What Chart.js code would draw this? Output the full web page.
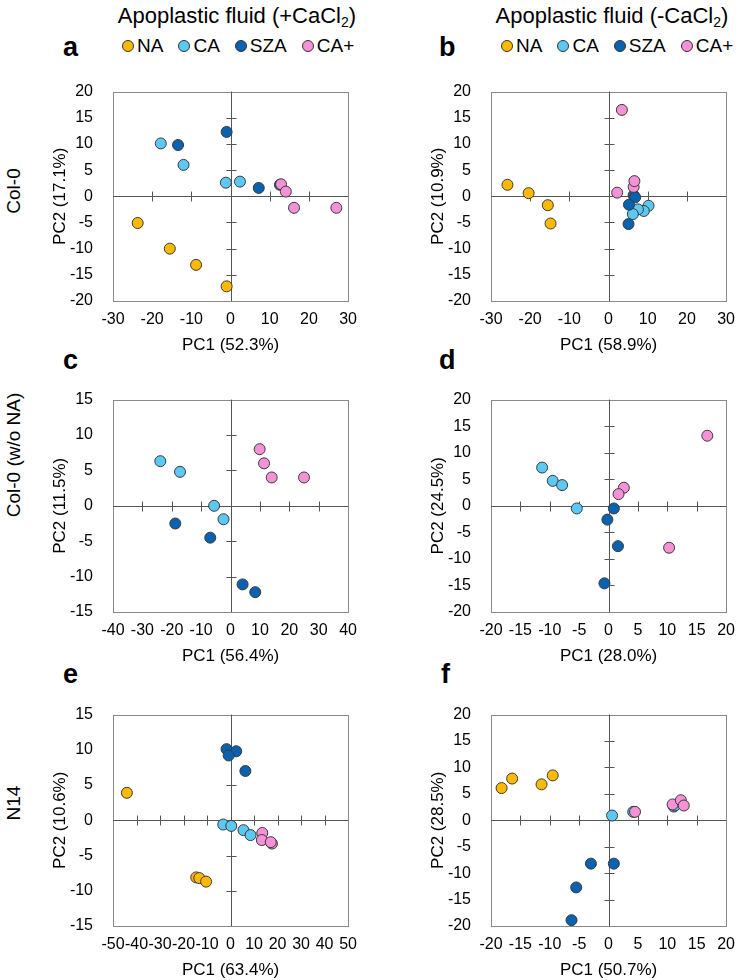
<!DOCTYPE html>
<html>
<head>
<meta charset="utf-8">
<script src="https://cdn.jsdelivr.net/npm/chart.js@4.4.0/dist/chart.umd.min.js"></script>
<style>
  body { margin: 0; background: #fff; overflow: hidden; font-family: "Liberation Sans", Arial, sans-serif; color: #000; }
  #page { position: relative; width: 745px; height: 980px; }
  canvas { position: absolute; }
  .head { position: absolute; top: 3px; font-size: 22px; transform: translateX(-50%); white-space: nowrap; }
  .head sub { font-size: 14px; vertical-align: -4px; line-height: 0; }
  .letter { position: absolute; font-weight: bold; font-size: 27px; line-height: 1; }
  .legend { position: absolute; top: 35px; display: flex; gap: 15px; font-size: 19px; line-height: 22px; }
  .legend span { display: flex; align-items: center; }
  .dot { width: 10px; height: 10px; border-radius: 50%; border: 1px solid #333; margin-right: 3px; }
  .row { position: absolute; left: 14px; font-size: 19px; white-space: nowrap; transform: translate(-50%, -50%) rotate(-90deg); }
</style>
</head>
<body>
<div id="page">
  <div class="head" style="left:237px">Apoplastic fluid (+CaCl<sub>2</sub>)</div>
  <div class="head" style="left:612px">Apoplastic fluid (-CaCl<sub>2</sub>)</div>

  <div class="letter" style="left:63px;top:34px">a</div>
  <div class="letter" style="left:439px;top:34px">b</div>
  <div class="letter" style="left:63px;top:347px">c</div>
  <div class="letter" style="left:439px;top:347px">d</div>
  <div class="letter" style="left:63px;top:661px">e</div>
  <div class="letter" style="left:441px;top:661px">f</div>

  <div class="legend" id="legA" style="left:122px"></div>
  <div class="legend" id="legB" style="left:501px"></div>

  <div class="row" style="top:191px">Col-0</div>
  <div class="row" style="top:455px">Col-0 (w/o NA)</div>
  <div class="row" style="top:803px">N14</div>

  <canvas id="cA"></canvas>
  <canvas id="cB"></canvas>
  <canvas id="cC"></canvas>
  <canvas id="cD"></canvas>
  <canvas id="cE"></canvas>
  <canvas id="cF"></canvas>
</div>

<script>
// groups and colours
const groups = ["NA", "CA", "SZA", "CA+"];
const fills = ["#FBBA00", "#5CC8F4", "#0862B0", "#F591D6"];

// a: Col-0, +CaCl2
const aNA  = [[-23.7,-5.1],[-15.5,-10.0],[-8.8,-13.1],[-1.0,-17.2]];
const aCA  = [[-17.8,10.1],[-12.0,6.0],[-1.2,2.6],[2.4,2.8]];
const aSZA = [[-13.4,9.8],[-1.0,12.3],[7.2,1.6],[12.6,2.2]];
const aCAp = [[12.9,2.3],[14.1,0.9],[16.2,-2.2],[27.0,-2.2]];

// b: Col-0, -CaCl2
const bNA  = [[-25.8,2.2],[-20.4,0.6],[-15.5,-1.7],[-14.8,-5.2]];
const bCA  = [[10.2,-1.8],[9.0,-2.8],[7.5,-2.5],[6.2,-3.4]];
const bSZA = [[6.4,0.2],[6.8,-0.2],[5.2,-1.6],[5.1,-5.3]];
const bCAp = [[3.4,16.5],[2.2,0.7],[6.4,1.8],[6.6,2.9]];

// c: Col-0 w/o NA, +CaCl2
const cCA  = [[-23.9,6.3],[-17.2,4.8],[-5.6,0.0],[-2.4,-1.9]];
const cSZA = [[-18.8,-2.5],[-6.9,-4.5],[4.1,-11.1],[8.4,-12.2]];
const cCAp = [[9.9,8.0],[11.4,6.0],[14.0,4.0],[25.0,4.0]];

// d: Col-0 w/o NA, -CaCl2
const dCA  = [[-11.3,7.2],[-9.5,4.7],[-7.9,3.9],[-5.4,-0.5]];
const dSZA = [[0.9,-0.5],[-0.2,-2.6],[1.6,-7.6],[-0.7,-14.6]];
const dCAp = [[16.8,13.2],[2.6,3.4],[1.7,2.2],[10.3,-7.9]];

// e: N14, +CaCl2
const eNA  = [[-44.1,3.9],[-14.6,-8.1],[-13.3,-8.2],[-10.4,-8.7]];
const eCA  = [[-3.1,-0.6],[0.3,-0.8],[5.5,-1.4],[8.5,-2.1]];
const eSZA = [[-1.7,10.1],[2.4,9.8],[-0.8,9.2],[6.3,7.0]];
const eCAp = [[13.5,-1.8],[13.3,-2.8],[17.6,-3.3],[17.1,-3.1]];

// f: N14, -CaCl2
const fNA  = [[-18.2,6.1],[-16.4,7.9],[-11.4,6.8],[-9.5,8.5]];
const fCA  = [[0.6,0.9],[4.2,1.6],[11.1,2.6],[11.3,2.8]];
const fSZA = [[-3.0,-8.2],[0.9,-8.2],[-5.5,-12.7],[-6.3,-18.9]];
const fCAp = [[4.5,1.6],[10.9,3.0],[12.3,3.8],[12.8,2.8]];

// axis ranges [min, max, step]
const xA = [-30, 30, 10], yA = [-20, 20, 5];
const xB = [-30, 30, 10], yB = [-20, 20, 5];
const xC = [-40, 40, 10], yC = [-15, 15, 5];
const xD = [-20, 20, 5],  yD = [-20, 20, 5];
const xE = [-50, 50, 10], yE = [-15, 15, 5];
const xF = [-20, 20, 5],  yF = [-20, 20, 5];

// axis titles
const xTitles = ["PC1 (52.3%)", "PC1 (58.9%)", "PC1 (56.4%)", "PC1 (28.0%)", "PC1 (63.4%)", "PC1 (50.7%)"];
const yTitles = ["PC2 (17.1%)", "PC2 (10.9%)", "PC2 (11.5%)", "PC2 (24.5%)", "PC2 (10.6%)", "PC2 (28.5%)"];

// =========================
// LEGENDS (html)
// =========================
["legA", "legB"].forEach(id => {
  const box = document.getElementById(id);
  groups.forEach((g, i) => {
    const s = document.createElement("span");
    s.innerHTML = '<i class="dot" style="background:' + fills[i] + '"></i>' + g;
    box.appendChild(s);
  });
});

// frame, zero lines and the little cross ticks
const frame = {
  id: "frame",
  beforeDatasetsDraw(chart) {
    const { ctx, chartArea: c, scales: { x, y } } = chart;
    const x0 = Math.round(x.getPixelForValue(0)) + 0.5;
    const y0 = Math.round(y.getPixelForValue(0)) + 0.5;
    ctx.save();
    ctx.lineWidth = 1;
    ctx.strokeStyle = "#8a8a8a";
    ctx.strokeRect(Math.round(c.left) + 0.5, Math.round(c.top) + 0.5, Math.round(c.width), Math.round(c.height));
    ctx.strokeStyle = "#555";
    ctx.beginPath();
    ctx.moveTo(c.left, y0); ctx.lineTo(c.right, y0);
    ctx.moveTo(x0, c.top); ctx.lineTo(x0, c.bottom);
    x.ticks.forEach(t => {
      if (t.value === 0 || t.value === x.min || t.value === x.max) return;
      const p = Math.round(x.getPixelForValue(t.value)) + 0.5;
      ctx.moveTo(p, y0 - 5); ctx.lineTo(p, y0 + 5);
    });
    y.ticks.forEach(t => {
      if (t.value === 0 || t.value === y.min || t.value === y.max) return;
      const p = Math.round(y.getPixelForValue(t.value)) + 0.5;
      ctx.moveTo(x0 - 5, p); ctx.lineTo(x0 + 5, p);
    });
    ctx.stroke();
    ctx.restore();
  }
};

const FONT = "'Liberation Sans', Arial, sans-serif";
const Y_W = 73, X_H = 61, PAD_T = 15, PAD_R = 8;

function panel(id, left, top, w, h, sets, xr, yr, k) {
  const cv = document.getElementById(id);
  cv.width = w + Y_W + PAD_R;
  cv.height = h + PAD_T + X_H;
  cv.style.left = (left - Y_W) + "px";
  cv.style.top = (top - PAD_T) + "px";

  const datasets = [];
  sets.forEach((pts, i) => {
    if (!pts) return;
    datasets.push({
      label: groups[i],
      data: pts.map(p => ({ x: p[0], y: p[1] })),
      backgroundColor: fills[i],
      borderColor: "#3a3a3a",
      borderWidth: 1,
      pointRadius: 5.5,
      order: 3 - i
    });
  });

  new Chart(cv, {
    type: "scatter",
    data: { datasets },
    options: {
      responsive: false,
      animation: false,
      layout: { padding: { top: PAD_T, right: PAD_R, left: 0, bottom: 0 } },
      plugins: { legend: { display: false }, tooltip: { enabled: false } },
      scales: {
        x: {
          type: "linear", min: xr[0], max: xr[1],
          ticks: { stepSize: xr[2], autoSkip: false, maxRotation: 0, padding: 9, color: "#000", font: { family: FONT, size: 16 } },
          grid: { display: false, drawTicks: false },
          border: { display: false },
          title: { display: true, text: xTitles[k], color: "#000", font: { family: FONT, size: 17 }, padding: { top: 0, bottom: 6 } },
          afterFit(s) { s.height = X_H; }
        },
        y: {
          type: "linear", min: yr[0], max: yr[1],
          ticks: { stepSize: yr[2], padding: 20, color: "#000", font: { family: FONT, size: 16 } },
          grid: { display: false, drawTicks: false },
          border: { display: false },
          title: { display: true, text: yTitles[k], color: "#000", font: { family: FONT, size: 17 }, padding: { top: 10, bottom: 0 } },
          afterFit(s) { s.width = Y_W; }
        }
      }
    },
    plugins: [frame]
  });
}

panel("cA", 113, 77, 245, 224, [aNA, aCA, aSZA, aCAp], xA, yA, 0);
panel("cB", 491, 77, 245, 224, [bNA, bCA, bSZA, bCAp], xB, yB, 1);
panel("cC", 113, 385, 245, 227, [null, cCA, cSZA, cCAp], xC, yC, 2);
panel("cD", 491, 385, 245, 227, [null, dCA, dSZA, dCAp], xD, yD, 3);
panel("cE", 113, 700, 245, 226, [eNA, eCA, eSZA, eCAp], xE, yE, 4);
panel("cF", 491, 700, 245, 226, [fNA, fCA, fSZA, fCAp], xF, yF, 5);
</script>
</body>
</html>
